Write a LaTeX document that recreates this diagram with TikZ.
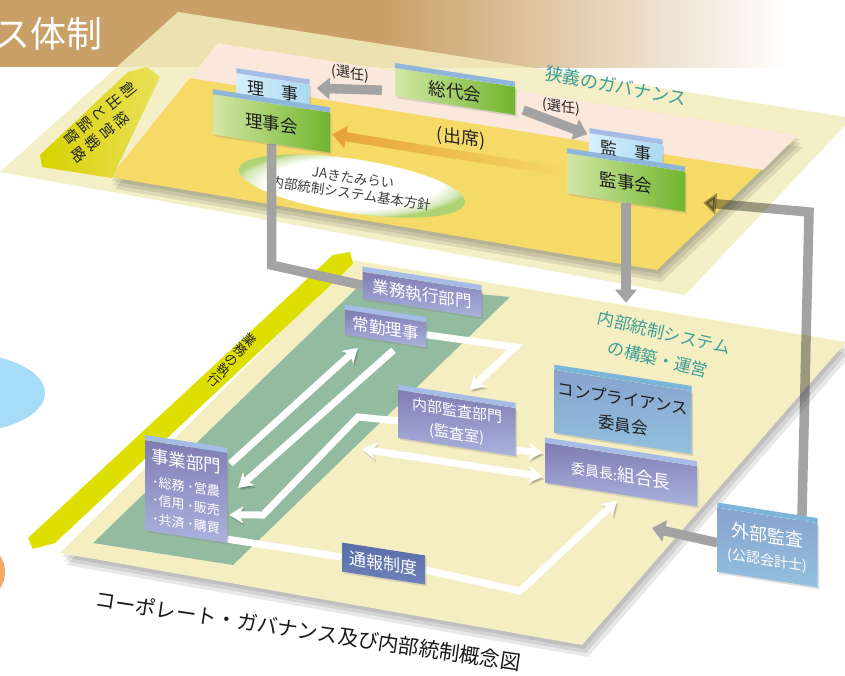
\documentclass[tikz,border=0pt]{standalone}
\usepackage{fontspec}
\setmainfont{Noto Sans CJK JP}
\usetikzlibrary{arrows.meta,calc,shadows,fadings,shapes.geometric}

\definecolor{bandbrown}{HTML}{C9A067}
\definecolor{upperpale}{HTML}{F3EDBE}
\definecolor{upperyellow}{HTML}{F6DA68}
\definecolor{upperpink}{HTML}{FBE8DC}
\definecolor{lowerpale}{HTML}{F5EEC3}
\definecolor{lowergreen}{HTML}{92BB9F}
\definecolor{barlime}{HTML}{DCDF00}
\definecolor{barolive}{HTML}{D6D200}
\definecolor{barlight}{HTML}{E9E15A}
\definecolor{arrowgray}{HTML}{A3A3A3}
\definecolor{attendorange}{HTML}{E6A23A}
\definecolor{tealtext}{HTML}{3E9E97}
\definecolor{rimgreen}{HTML}{AED274}
\definecolor{boxgreenL}{HTML}{D3E7A4}
\definecolor{boxgreenR}{HTML}{70B52D}
\definecolor{tabL}{HTML}{D6EFFA}
\definecolor{tabR}{HTML}{A9DAF2}
\definecolor{stripeblue}{HTML}{8FB5DB}
\definecolor{stripelav}{HTML}{A5BCE6}
\definecolor{stripesky}{HTML}{7BB5DA}
\definecolor{unitTop}{HTML}{7F7DB4}
\definecolor{unitBot}{HTML}{AAB2DC}
\definecolor{reportTop}{HTML}{596EA8}
\definecolor{reportBot}{HTML}{6D82BA}
\definecolor{compTop}{HTML}{88A2CE}
\definecolor{compBot}{HTML}{93C1DD}
\definecolor{sideblue}{HTML}{A7DCF6}
\definecolor{sideorange}{HTML}{F4AA68}

\pgfdeclareradialshading{policyrim}{\pgfpoint{0bp}{0bp}}{color(0bp)=(white); color(19bp)=(white); color(24bp)=(rimgreen!55); color(26bp)=(rimgreen); color(50bp)=(rimgreen)}

\pgfdeclarelayer{base}
\pgfdeclarelayer{planes}
\pgfdeclarelayer{arrows}
\pgfsetlayers{base,planes,arrows,main}

\newcommand{\fsize}[2]{\fontsize{#1}{#2}\selectfont}
\newcommand{\topband}[2]{\fill[#2] (#1.north west) -- (#1.north east) -- ($(#1.north east)+(0,-5)$) -- ($(#1.north west)+(0,-5)$) -- cycle ;}

\tikzset{
  tilt/.style={yslant=-0.155, transform shape},
  box/.style={tilt, rectangle, inner sep=1pt, align=center, text=black!88,
    drop shadow={opacity=.25, shadow xshift=1.5pt, shadow yshift=-2pt}},
  greenbox/.style={box, left color=boxgreenL, right color=boxgreenR, font=\fsize{17.5}{20}},
  tabbox/.style={box, left color=tabL, right color=tabR, font=\fsize{17}{20}},
  unitbox/.style={box, top color=unitTop, bottom color=unitBot, text=white, font=\fsize{16.5}{20}},
  note/.style={tilt, font=\fsize{14}{16}, text=black!85},
  tealnote/.style={text=tealtext, align=center, font=\fsize{18}{21}},
  stack/.style={align=center, text=black!85},
  grayline/.style={draw=arrowgray, line width=9.5pt},
  grayarrow/.style={grayline, -{Triangle[width=21pt,length=13pt]}},
  whiteline/.style={draw=white, line width=7pt,
    preaction={draw=black, opacity=.15, transform canvas={xshift=1.5pt, yshift=-2.5pt}}},
  whitearrow/.style={whiteline, -{Stealth[width=17pt,length=14pt,inset=4pt]}},
  whitebiarrow/.style={whiteline, {Stealth[width=17pt,length=14pt,inset=4pt]}-{Stealth[width=17pt,length=14pt,inset=4pt]}}
}

\begin{document}
\begin{tikzpicture}[x=1pt, y=-1pt]
  \useasboundingbox (0,0) rectangle (845,675) ;

  \begin{pgfonlayer}{base}
    \fill[white] (0,0) rectangle (845,675) ;
    \fill[bandbrown] (0,0) rectangle (381,67) ;
    \shade[left color=bandbrown, right color=white] (380,0) rectangle (790,67) ;
    \fill[sideblue] (-40,393) ellipse [x radius=85, y radius=40] ;
    \fill[sideorange] (-25,572) circle [radius=30] ;
  \end{pgfonlayer}

  \begin{pgfonlayer}{planes}
    % upper level
    \fill[upperpale, opacity=.85] (178,12) -- (852,118) -- (685,295) -- (0,172) -- cycle ;
    \foreach \s in {4,8,12}
      \fill[black, opacity=.09, shift={(0.4*\s,\s)}] (218,43) -- (798,135) -- (657,270) -- (110,177) -- cycle ;
    \fill[upperyellow] (218,43) -- (798,135) -- (657,270) -- (110,177) -- cycle ;
    \fill[upperpink] (218,43) -- (798,135) -- (763,170) -- (190,78) -- cycle ;
    \shade[left color=barolive, right color=barlight] (40,155) -- (128,72) -- (147,67) -- (160,77) -- (112,178) -- (42,167) -- cycle ;
    \node [ellipse, shade, shading=policyrim, rotate=-8.5, minimum width=198pt, minimum height=54pt,
      inner sep=0pt, align=center, font=\fsize{13.5}{16}, text=black!75] at (352,186) (policy)
      {JAきたみらい\\内部統制システム基本方針} ;
    % lower level
    \foreach \s in {4,8,12}
      \fill[black, opacity=.09, shift={(0.5*\s,\s)}] (353,260) -- (846,342) -- (582,645) -- (60,553) -- cycle ;
    \fill[lowerpale] (353,260) -- (846,342) -- (582,645) -- (60,553) -- cycle ;
    \fill[lowergreen] (362,283) -- (510,297) -- (233,565) -- (93,543) -- cycle ;
    \fill[barlime] (28,538) -- (333,255) -- (350,252) -- (353,264) -- (55,543) -- (33,549) -- cycle ;
  \end{pgfonlayer}

  \node [anchor=east, text=white, font=\fsize{36}{40}] at (106,34) (title) {ス体制} ;
  \node [stack, rotate=-51, font=\fsize{15}{18.5}] at (100,113) (barTop) {創\\出\\と\\監\\督} ;
  \node [stack, rotate=-51, font=\fsize{15}{18.5}] at (100,137) (barLow) {経\\営\\戦\\略} ;
  \node [stack, rotate=-41, font=\fsize{13}{13.5}] at (232,360) (execBar) {業\\務\\の\\執\\行} ;

  % governance boxes
  \node [tabbox, minimum width=73pt, minimum height=27pt] at (273,92.5) (riji) {\raisebox{4pt}{理　事}} ;
  \topband{riji}{stripelav}
  \node [greenbox, minimum width=117pt, minimum height=40pt] at (271.5,123.5) (rijikai) {理事会} ;
  \topband{rijikai}{stripeblue}
  \node [greenbox, minimum width=120pt, minimum height=28pt] at (455,91.5) (sodai) {総代会} ;
  \topband{sodai}{stripeblue}
  \node [tabbox, minimum width=73pt, minimum height=27pt] at (626,152.5) (kanji) {\raisebox{4pt}{監　事}} ;
  \topband{kanji}{stripelav}
  \node [greenbox, minimum width=118pt, minimum height=40pt] at (626,182.5) (kanjikai) {監事会} ;
  \topband{kanjikai}{stripeblue}

  \node [note] at (350,73.5) (senninL) {(選任)} ;
  \node [note] at (561,107) (senninR) {(選任)} ;
  \node [note, font=\fsize{18}{20}] at (461,138) (attend) {(出席)} ;
  \node [tealnote, rotate=-10.5] at (616,86) (narrowGov) {狭義のガバナンス} ;
  \node [tealnote, rotate=-13, font=\fsize{17}{27}] at (661,346) (icSystem) {内部統制システム\\の構築・運営} ;

  % internal control boxes
  \node [unitbox, minimum width=119pt, minimum height=27pt] at (422,294.5) (gyomu) {業務執行部門} ;
  \topband{gyomu}{stripelav}
  \node [unitbox, minimum width=81pt, minimum height=25pt] at (385.5,328.5) (jokin) {常勤理事} ;
  \topband{jokin}{stripelav}
  \node [unitbox, minimum width=117pt, minimum height=48pt, font=\fsize{15}{23}] at (457,423) (naibu) {内部監査部門\\(監査室)} ;
  \topband{naibu}{stripelav}
  \node [unitbox, minimum width=82pt, minimum height=90pt, font=\fsize{13}{18.5}] at (186,491.5) (jigyo)
    {{\fsize{17.5}{20}事業部門}\\[5pt]･総務 ･営農\\･信用 ･販売\\･共済 ･購買} ;
  \topband{jigyo}{stripelav}
  \node [box, top color=reportTop, bottom color=reportBot, text=white, font=\fsize{17}{20},
    minimum width=83pt, minimum height=29pt] at (383.5,563.5) (tsuho) {通報制度} ;
  \node [box, top color=compTop, bottom color=compBot, font=\fsize{16.5}{27},
    minimum width=137pt, minimum height=63pt] at (623,412) (comp) {コンプライアンス\\委員会} ;
  \topband{comp}{stripesky}
  \node [unitbox, minimum width=152pt, minimum height=40pt, font=\fsize{17.5}{20}] at (621,474.5) (iincho)
    {{\fsize{14}{16}委員長:}組合長} ;
  \topband{iincho}{stripelav}
  \node [box, top color=compTop, bottom color=compBot, text=white, font=\fsize{14}{23},
    minimum width=100pt, minimum height=64pt] at (767.5,547.5) (gaibu) {{\fsize{18}{20}外部監査}\\(公認会計士)} ;
  \topband{gaibu}{stripesky}

  \node [rotate=-8.5, font=\fsize{20.5}{24}, text=black!90] at (308,631) (caption)
    {コーポレート・ガバナンス及び内部統制概念図} ;

  \coordinate (bendA) at (270,265) ;
  \coordinate (bendC) at (809,212) ;
  \coordinate (auditTip) at (652,528) ;
  \coordinate (bendD) at (515,347) ;
  \coordinate (bendE) at (358,417) ;
  \coordinate (bendF) at (263,515) ;
  \coordinate (auditL) at (362,449) ;
  \coordinate (bendG) at (520,591) ;

  \begin{pgfonlayer}{arrows}
    \draw[grayarrow] ($(sodai.west)+(-13,8)$) -- ($(riji.east)+(7,-10)$) ;
    \draw[grayarrow] ($(sodai.south east)+(8,-5)$) -- ($(kanji.north west)+(-2,1)$) ;
    \draw[line width=9pt, draw=attendorange, path fading=east, -{Triangle[width=22pt,length=14pt]}]
      ($(kanjikai.west)+(0,-1)$) -- ($(rijikai.east)+(2,2)$) ;
    \draw[grayline] (rijikai.south) -- (rijikai.south |- bendA) -- (gyomu.west) ;
    \draw[grayarrow] (kanjikai.south) -- ++(0,100) ;
    \draw[grayarrow, blend mode=multiply] ($(gaibu.north east)+(-16,3)$) -- (bendC) -- ($(kanjikai.east)+(18,11)$) ;
    \draw[grayarrow] ($(gaibu.west)+(0,3)$) -- (auditTip) ;

    \draw[whitearrow] (jokin.east) -- (bendD) -- ($(naibu.north)+(13,-9)$) ;
    \draw[whitearrow] ($(jigyo.north east)+(3,11)$) -- ($(jokin.south west)+(13,13)$) ;
    \draw[whitearrow] ($(jokin.south)+(8,9)$) -- ($(jigyo.east)+(11,-10)$) ;
    \draw[whitearrow] ($(naibu.west)+(0,7)$) -- (bendE) -- (bendF) -- ($(jigyo.east)+(2,17)$) ;
    \draw[whitebiarrow] (auditL) -- ($(iincho.west)+(-2,14)$) ;
    \draw[whitearrow] ($(naibu.south east)+(0,-6)$) -- ($(iincho.west)+(-2,-10)$) ;
    \draw[whiteline] ($(jigyo.south east)+(0,-4)$) -- (tsuho.west) ;
    \draw[whitearrow] (tsuho.east) -- (bendG) -- ($(iincho.south)+(-4,6)$) ;
  \end{pgfonlayer}
\end{tikzpicture}
\end{document}
